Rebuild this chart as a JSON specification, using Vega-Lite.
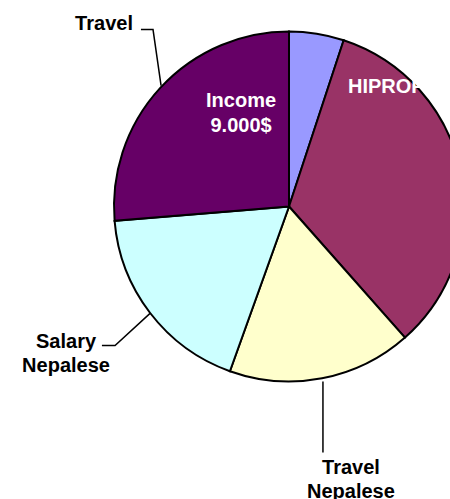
{
  "$schema": "https://vega.github.io/schema/vega-lite/v6.json",
  "width": 450,
  "height": 499,
  "autosize": {"type": "none"},
  "padding": 0,
  "background": "white",
  "config": {"view": {"stroke": null}},
  "datasets": {
    "slices": [
      {"name": "Other", "value": 1730, "ord": 1},
      {"name": "HIPROFIT", "value": 11430, "ord": 2},
      {"name": "Travel Nepalese", "value": 5820, "ord": 3},
      {"name": "Salary Nepalese", "value": 6230, "ord": 4},
      {"name": "Travel", "value": 9000, "ord": 5}
    ],
    "outer": [
      {"text": ["Travel"], "x": -1.057, "y": 1.011},
      {"text": ["Salary", "Nepalese"], "x": -1.274, "y": -0.806},
      {"text": ["Travel", "Nepalese"], "x": 0.354, "y": -1.526}
    ],
    "inner": [
      {"text": ["Income", "9.000$"], "x": -0.274, "y": 0.571}
    ],
    "inner2": [
      {"text": ["HIPROFIT"], "x": 0.337, "y": 0.651}
    ],
    "leaders": [
      {"lid": "a", "seq": 1, "x": -0.846, "y": 1.011},
      {"lid": "a", "seq": 2, "x": -0.777, "y": 1.011},
      {"lid": "a", "seq": 3, "x": -0.731, "y": 0.691},
      {"lid": "b", "seq": 1, "x": -1.069, "y": -0.794},
      {"lid": "b", "seq": 2, "x": -0.994, "y": -0.794},
      {"lid": "b", "seq": 3, "x": -0.794, "y": -0.611},
      {"lid": "c", "seq": 1, "x": 0.194, "y": -1.0},
      {"lid": "c", "seq": 2, "x": 0.194, "y": -1.406}
    ]
  },
  "layer": [
    {
      "data": {"name": "slices"},
      "mark": {"type": "arc", "outerRadius": 175, "stroke": "black", "strokeWidth": 2},
      "encoding": {
        "theta": {"field": "value", "type": "quantitative", "stack": true},
        "order": {"field": "ord", "type": "quantitative"},
        "x": {"datum": 0, "type": "quantitative", "scale": {"domain": [-1.6514, 0.92], "nice": false, "zero": false}, "axis": null},
        "y": {"datum": 0, "type": "quantitative", "scale": {"domain": [-1.6714, 1.18], "nice": false, "zero": false}, "axis": null},
        "color": {
          "field": "name", "type": "nominal", "legend": null,
          "scale": {
            "domain": ["Other", "HIPROFIT", "Travel Nepalese", "Salary Nepalese", "Travel"],
            "range": ["#9999FF", "#993366", "#FFFFCC", "#CCFFFF", "#660066"]
          }
        }
      }
    },
    {
      "data": {"name": "leaders"},
      "mark": {"type": "line", "color": "black", "strokeWidth": 1.5},
      "encoding": {
        "x": {"field": "x", "type": "quantitative", "axis": null},
        "y": {"field": "y", "type": "quantitative", "axis": null},
        "detail": {"field": "lid"},
        "order": {"field": "seq", "type": "quantitative"}
      }
    },
    {
      "data": {"name": "outer"},
      "mark": {"type": "text", "font": "Liberation Sans", "fontWeight": "bold", "fontSize": 20, "lineHeight": 24, "align": "center", "baseline": "alphabetic", "color": "black"},
      "encoding": {
        "x": {"field": "x", "type": "quantitative", "axis": null},
        "y": {"field": "y", "type": "quantitative", "axis": null},
        "text": {"field": "text"}
      }
    },
    {
      "data": {"name": "inner"},
      "mark": {"type": "text", "font": "Liberation Sans", "fontWeight": "bold", "fontSize": 20, "lineHeight": 25, "align": "center", "baseline": "alphabetic", "color": "white"},
      "encoding": {
        "x": {"field": "x", "type": "quantitative", "axis": null},
        "y": {"field": "y", "type": "quantitative", "axis": null},
        "text": {"field": "text"}
      }
    },
    {
      "data": {"name": "inner2"},
      "mark": {"type": "text", "font": "Liberation Sans", "fontWeight": "bold", "fontSize": 20, "align": "left", "baseline": "alphabetic", "color": "white"},
      "encoding": {
        "x": {"field": "x", "type": "quantitative", "axis": null},
        "y": {"field": "y", "type": "quantitative", "axis": null},
        "text": {"field": "text"}
      }
    }
  ],
  "resolve": {"scale": {"color": "independent"}}
}
